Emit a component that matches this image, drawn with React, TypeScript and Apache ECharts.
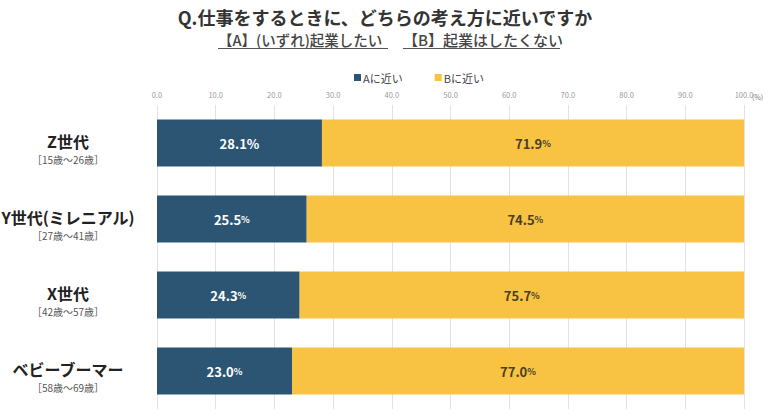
import React, { useEffect, useRef } from "react";
import * as echarts from "echarts";

const categories = ["Z世代", "Y世代(ミレニアル)", "X世代", "ベビーブーマー"];
const ageRanges = ["［15歳～26歳］", "［27歳～41歳］", "［42歳～57歳］", "［58歳～69歳］"];
const seriesA = [28.1, 25.5, 24.3, 23.0];
const seriesB = [71.9, 74.5, 75.7, 77.0];
const seriesNames = ["Aに近い", "Bに近い"];
const titleText = "Q.仕事をするときに、どちらの考え方に近いですか";
const subA = "【A】(いずれ)起業したい";
const subB = "【B】起業はしたくない";

const FONT = "'Noto Sans CJK JP', 'Noto Sans', sans-serif";

export default function App() {
  const ref = useRef<HTMLDivElement>(null);
  useEffect(() => {
    document.body.style.margin = "0";
    if (!ref.current) return;
    const chart = echarts.init(ref.current, null, { renderer: "svg" });
    const mkData = (vals: number[], bigFirst: boolean) =>
      vals.map((v, i) => ({
        value: v,
        label: {
          formatter:
            bigFirst && i === 0
              ? `${v.toFixed(1)}%`
              : `${v.toFixed(1)}{p|%}`,
        },
      }));
    chart.setOption({
      animation: false,
      textStyle: { fontFamily: FONT },
      title: {
        text: titleText,
        left: "center",
        top: 3,
        textStyle: { fontSize: 18, fontWeight: "bold", color: "#333", fontFamily: FONT },
      },
      legend: {
        top: 67,
        left: 349,
        itemWidth: 7,
        itemHeight: 7,
        itemGap: 32,
        icon: "rect",
        textStyle: { fontSize: 11, color: "#444", fontFamily: FONT, padding: [0, 0, 0, -3] },
        data: seriesNames,
      },
      graphic: [
        {
          type: "text",
          left: 218,
          top: 32,
          style: { text: subA, fontSize: 14.5, fill: "#444", fontWeight: 500, fontFamily: FONT },
        },
        {
          type: "text",
          left: 403,
          top: 32,
          style: { text: subB, fontSize: 15, fill: "#444", fontWeight: 500, fontFamily: FONT },
        },
        { type: "line", shape: { x1: 218, y1: 48.5, x2: 388, y2: 48.5 }, style: { stroke: "#555", lineWidth: 1.2 } },
        { type: "line", shape: { x1: 403, y1: 48.5, x2: 560, y2: 48.5 }, style: { stroke: "#555", lineWidth: 1.2 } },
        {
          type: "text",
          left: 752,
          top: 93,
          style: { text: "(%)", fontSize: 7, fill: "#777", fontFamily: FONT },
        },
      ],
      grid: { left: 157, right: 26, top: 105, bottom: 8, containLabel: false, outerBoundsMode: "none" },
      xAxis: {
        type: "value",
        position: "top",
        min: 0,
        max: 100,
        interval: 10,
        axisLine: { show: false },
        axisTick: { show: false },
        axisLabel: {
          fontSize: 7.5,
          color: "#999",
          margin: 7,
          formatter: (v: number) => v.toFixed(1),
        },
        splitLine: { show: true, lineStyle: { color: "#e2e2e2", width: 1 } },
      },
      yAxis: {
        type: "category",
        inverse: true,
        data: categories,
        axisLine: { show: false },
        axisTick: { show: false },
        axisLabel: {
          align: "center",
          margin: 89,
          padding: [8, 0, 0, 0],
          formatter: (v: string, i: number) => `{n|${v}}\n{a|${ageRanges[i]}}`,
          rich: {
            n: { fontSize: 16, fontWeight: "bold", color: "#222", fontFamily: FONT, lineHeight: 24, align: "center" },
            a: { fontSize: 10, color: "#555", fontFamily: FONT, lineHeight: 12, align: "center" },
          },
        },
      },
      series: [
        {
          name: seriesNames[0],
          type: "bar",
          stack: "total",
          barWidth: 47,
          itemStyle: { color: "#2C5574" },
          label: {
            show: true,
            position: "inside",
            color: "#fff",
            fontSize: 13,
            fontWeight: "bold",
            fontFamily: FONT,
            rich: { p: { fontSize: 9, color: "#fff", fontWeight: "bold", fontFamily: FONT } },
          },
          data: mkData(seriesA, true),
        },
        {
          name: seriesNames[1],
          type: "bar",
          stack: "total",
          barWidth: 47,
          itemStyle: { color: "#F8C343" },
          label: {
            show: true,
            position: "inside",
            color: "#4a3e24",
            fontSize: 13,
            fontWeight: "bold",
            fontFamily: FONT,
            rich: { p: { fontSize: 9, color: "#4a3e24", fontWeight: "bold", fontFamily: FONT } },
          },
          data: mkData(seriesB, false),
        },
      ],
    });
    return () => chart.dispose();
  }, []);
  return <div ref={ref} style={{ width: 770, height: 417 }} />;
}
